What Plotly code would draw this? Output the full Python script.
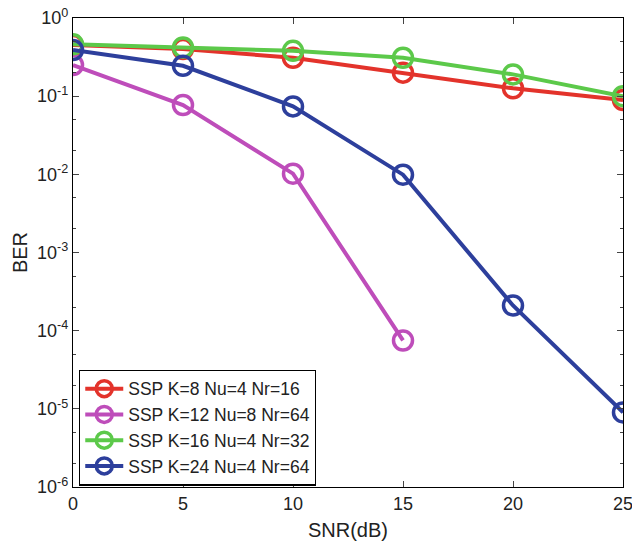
import plotly.graph_objects as go

snr = [0, 5, 10, 15, 20, 25]
names = ["SSP K=8 Nu=4 Nr=16", "SSP K=12 Nu=8 Nr=64", "SSP K=16 Nu=4 Nr=32", "SSP K=24 Nu=4 Nr=64"]
ber_k8 = [0.45, 0.40, 0.31, 0.20, 0.126, 0.089]
ber_k12 = [0.25, 0.077, 0.0102, 7.5e-5]
ber_k16 = [0.46, 0.42, 0.38, 0.31, 0.19, 0.10]
ber_k24 = [0.39, 0.245, 0.074, 0.0099, 2.1e-4, 9.0e-6]
colors = ["#E3332B", "#BE4DBA", "#5CC94A", "#2D3F9C"]

ytick_vals = [1e-6, 1e-5, 1e-4, 1e-3, 1e-2, 1e-1, 1]
ytick_text = ["10<sup>-6</sup>", "10<sup>-5</sup>", "10<sup>-4</sup>", "10<sup>-3</sup>",
              "10<sup>-2</sup>", "10<sup>-1</sup>", "10<sup>0</sup>"]
xtick_vals = [0, 5, 10, 15, 20, 25]

series = [ber_k8, ber_k12, ber_k16, ber_k24]
fig = go.Figure()
for name, ys, c in zip(names, series, colors):
    fig.add_trace(go.Scatter(
        x=snr[:len(ys)], y=ys, name=name, mode="lines+markers",
        line=dict(color=c, width=4),
        marker=dict(symbol="circle-open", size=19, color=c, line=dict(width=3.5, color=c)),
    ))

fig.update_layout(
    width=632, height=548,
    margin=dict(l=73, r=9, t=18, b=61),
    paper_bgcolor="white", plot_bgcolor="white",
    font=dict(family="Liberation Sans, Arial, sans-serif", size=18, color="#222"),
    showlegend=True,
    legend=dict(x=0.011, y=0.003, xanchor="left", yanchor="bottom",
                bgcolor="white", bordercolor="black", borderwidth=1.2,
                font=dict(size=17.5, color="#222"), itemwidth=38,
                tracegroupgap=0),
)
fig.update_xaxes(
    range=[0, 25], tickvals=xtick_vals, ticks="inside", ticklen=6,
    showline=True, linecolor="black", linewidth=1.2, mirror="ticks",
    showgrid=False, zeroline=False, automargin=False,
    tickfont=dict(size=18), ticklabeloverflow="allow",
    title=dict(text="SNR(dB)", font=dict(size=20), standoff=10),
)
fig.update_yaxes(
    type="log", range=[-6, 0], tickvals=ytick_vals, ticktext=ytick_text,
    ticks="inside", ticklen=6,
    minor=dict(ticks="inside", ticklen=3, showgrid=False),
    showline=True, linecolor="black", linewidth=1.2, mirror="ticks",
    showgrid=False, zeroline=False, automargin=False,
    tickfont=dict(size=18), ticklabeloverflow="allow",
    title=dict(text="BER", font=dict(size=20), standoff=4),
)
fig.write_html("out.html",
               config={"displayModeBar": False},
               post_script="document.body.style.margin='0';document.body.style.overflow='hidden';")
